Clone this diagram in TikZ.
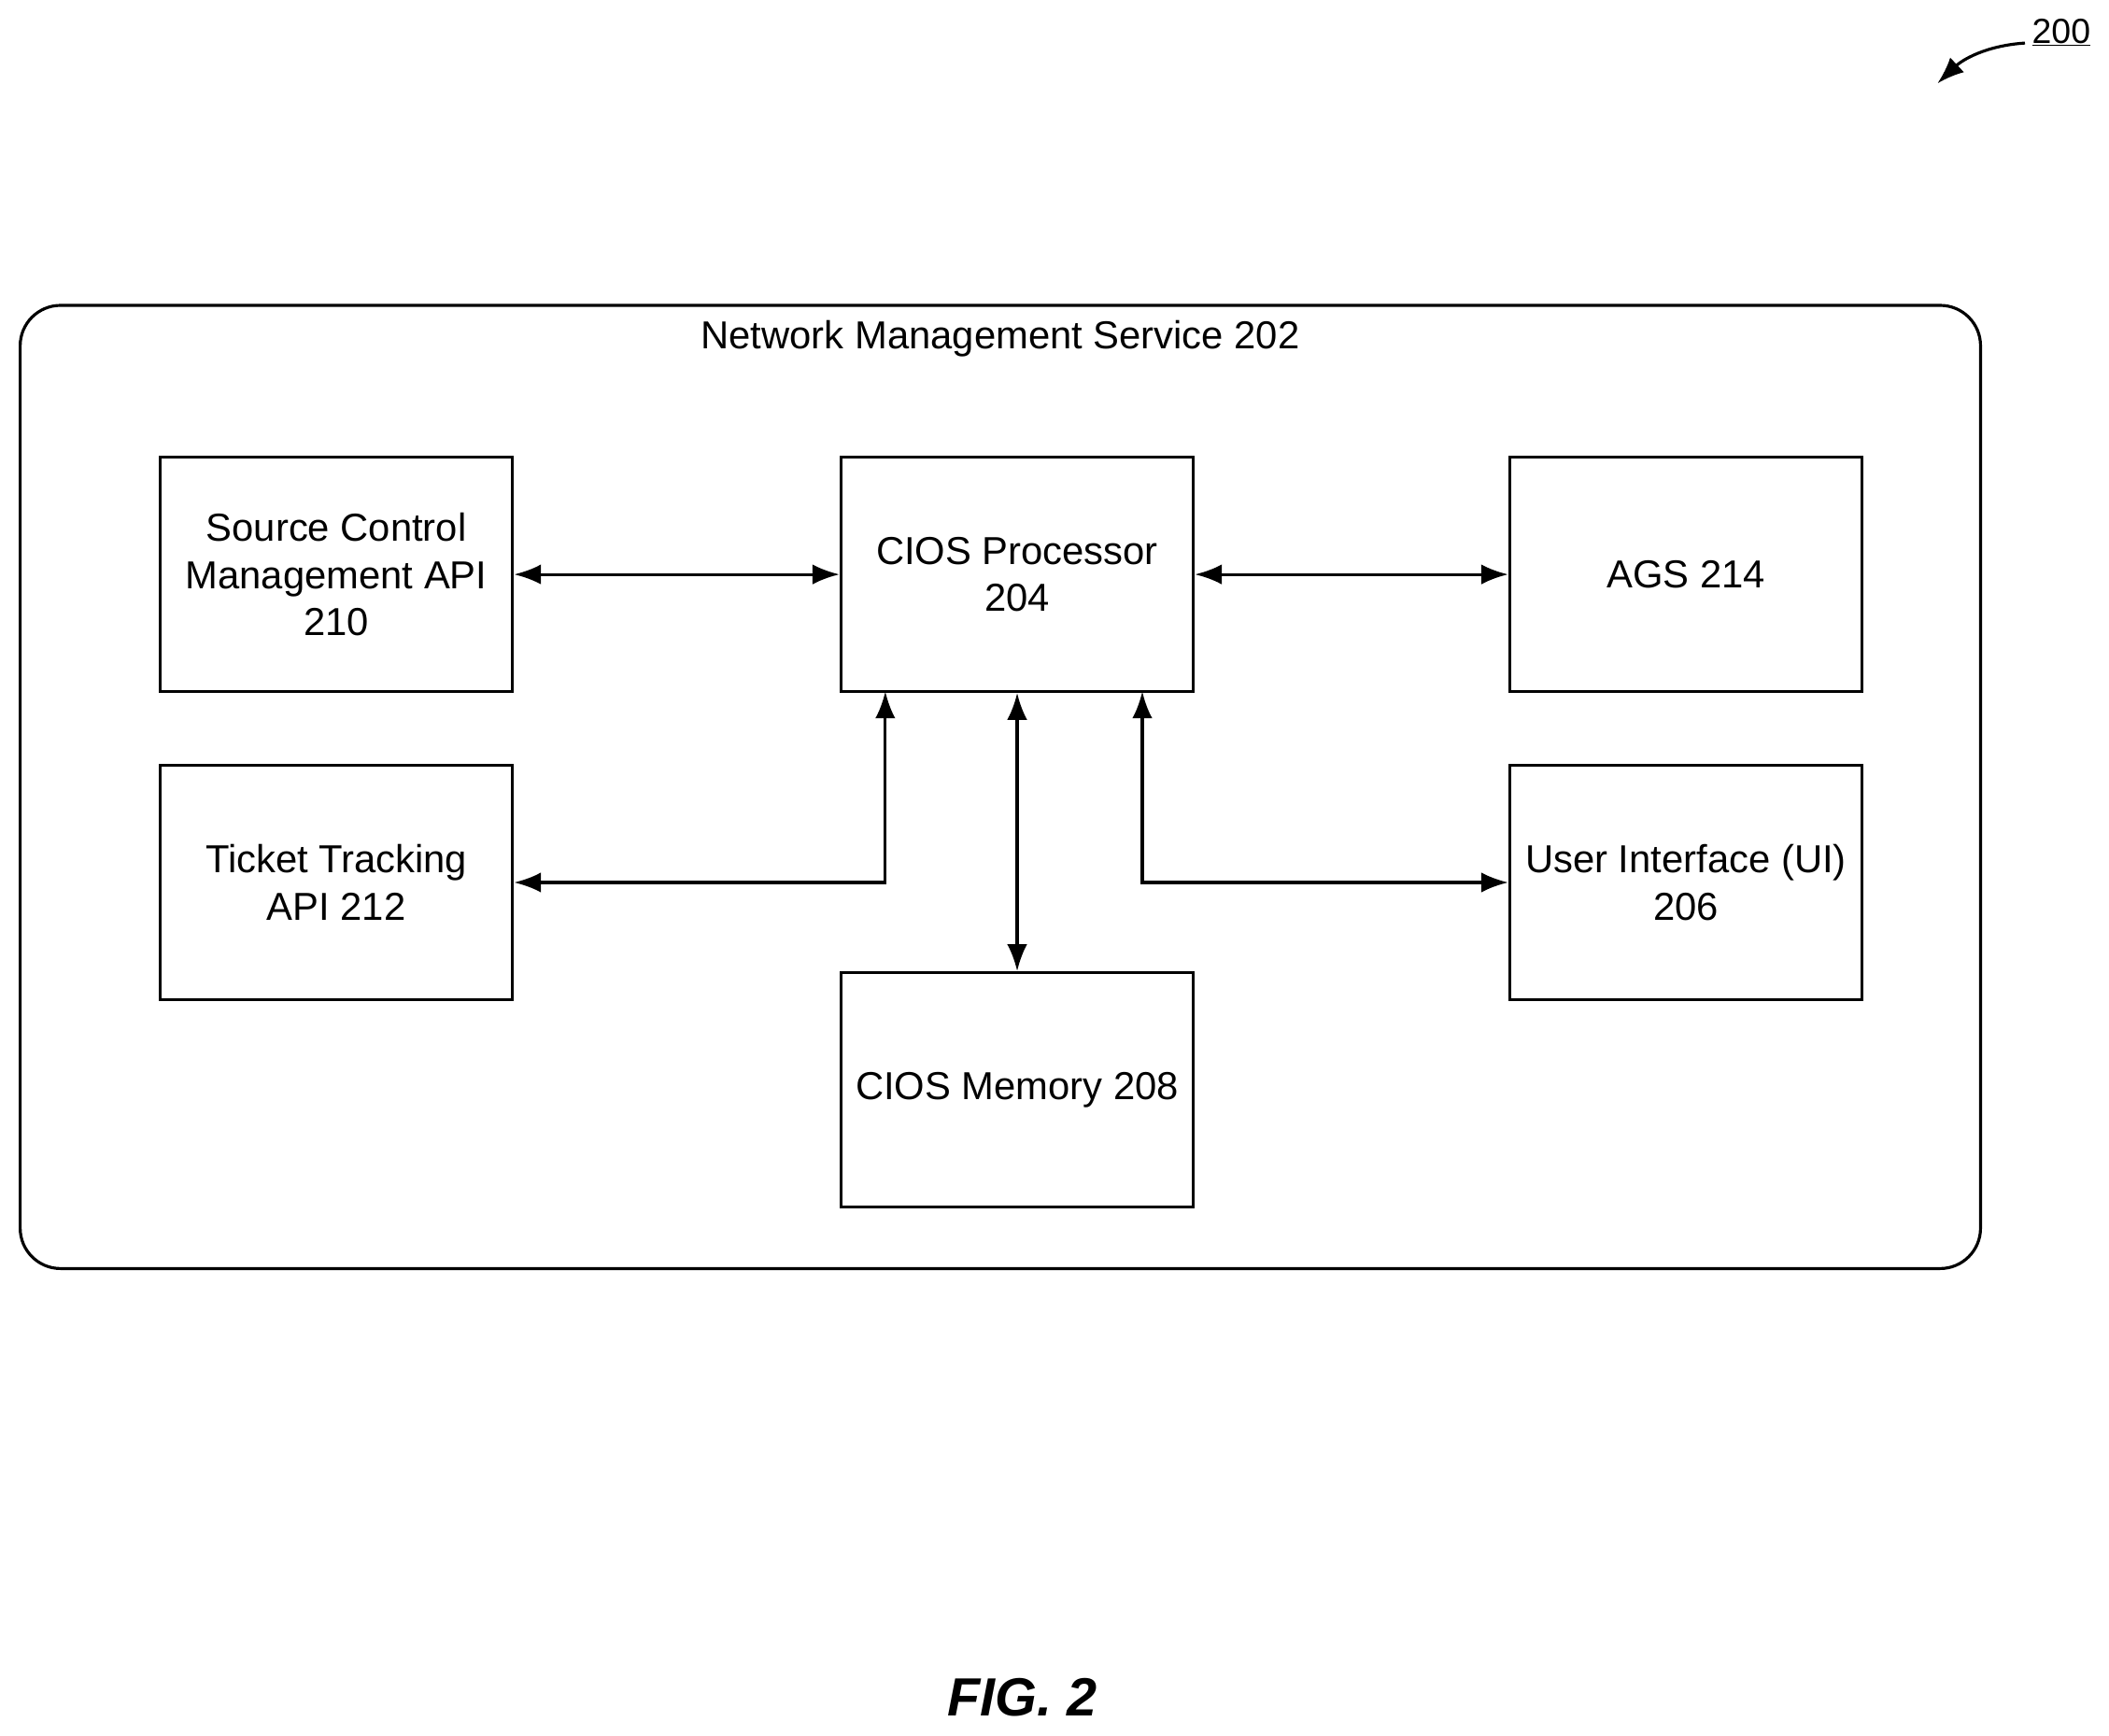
\documentclass[tikz,border=0pt]{standalone}
\usepackage{fontspec}
\setmainfont{Liberation Sans}
\usetikzlibrary{arrows.meta}
\begin{document}
\begin{tikzpicture}[x=1pt,y=-1pt,
  box/.style={draw,line width=2.2pt,minimum width=262pt,minimum height=174pt,align=center,font=\fontsize{29}{35}\selectfont,inner sep=0pt},
  conn/.style={line width=2.2pt,{Latex[length=20pt,width=15pt]}-{Latex[length=20pt,width=15pt]}}]
\useasboundingbox (0,0) rectangle (1567.5,1290.5);
\node[draw,line width=2.2pt,rounded corners=30pt,minimum width=1457pt,minimum height=716pt,inner sep=0pt] (nms) at (743.5,585) {};
\node[font=\fontsize{29}{35}\selectfont] (nmsl) at (743.5,252) {Network Management Service 202};
\node[box] (scm) at (250,427) {Source Control\\Management API\\210};
\node[box] (proc) at (756,427) {CIOS Processor\\204};
\node[box] (ags) at (1253,427) {AGS 214};
\node[box] (tt) at (250,656) {Ticket Tracking\\API 212};
\node[box] (ui) at (1253,656) {User Interface (UI)\\206};
\node[box] (mem) at (756,810) {CIOS Memory 208};
\draw[conn] (scm.east) -- (proc.west);
\draw[conn] (proc.east) -- (ags.west);
\draw[conn] (proc.south) -- (mem.north);
\coordinate (pa) at (658,514);
\coordinate (pb) at (849,514);
\draw[conn] (tt.east) -| (pa);
\draw[conn] (pb) |- (ui.west);
\node[font=\fontsize{26}{30}\selectfont,inner sep=1pt] (n200) at (1532,24) {\underline{200}};
\coordinate (a200) at (1440,62);
\draw[line width=2.2pt,-{Latex[length=20pt,width=15pt]}] (1505,32) .. controls (1475,34) and (1458,45) .. (a200);
\node[font=\bfseries\itshape\fontsize{40}{48}\selectfont] (fig) at (760,1262) {FIG. 2};
\end{tikzpicture}
\end{document}
